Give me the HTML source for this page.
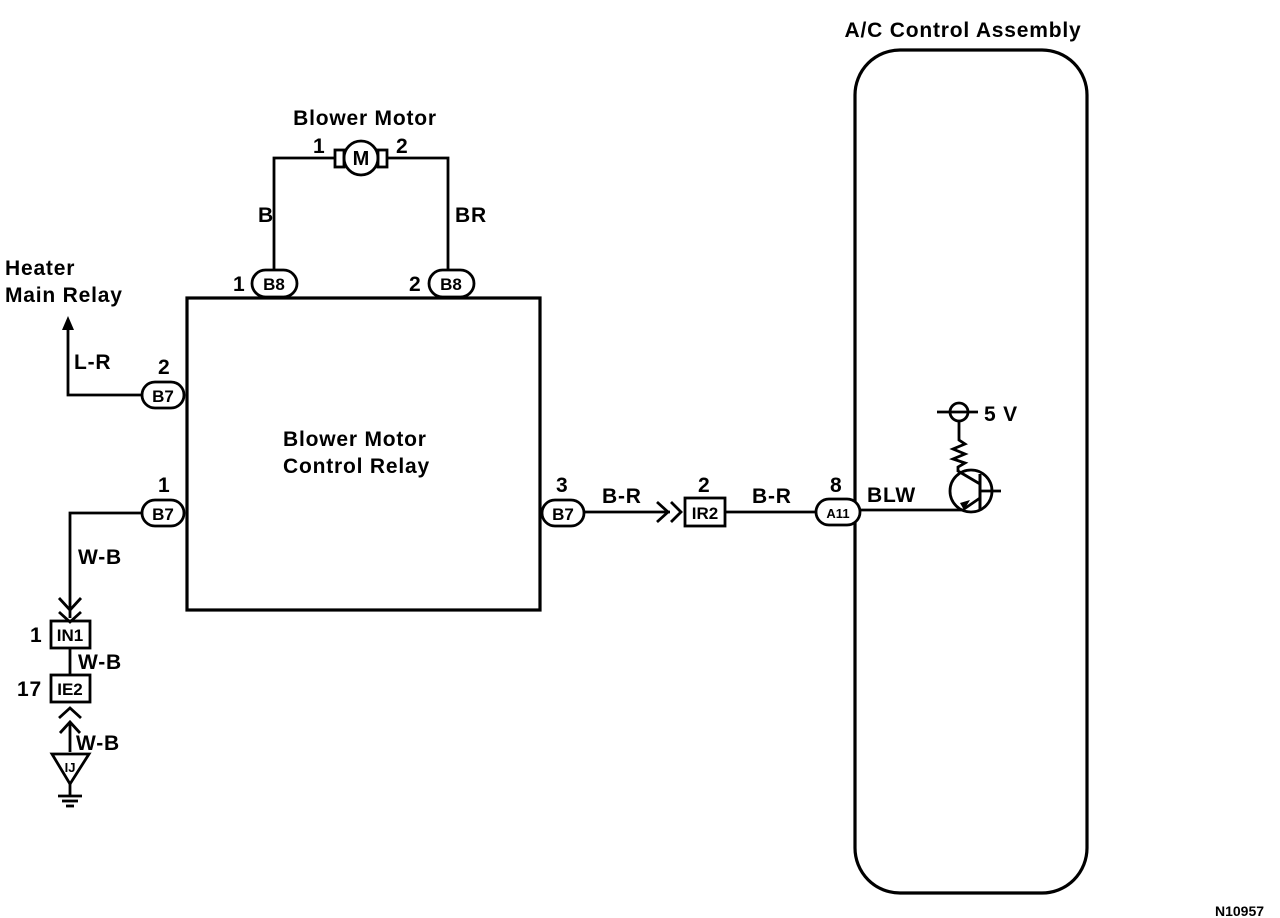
<!DOCTYPE html>
<html><head><meta charset="utf-8"><style>
body{margin:0;background:#fff;}
svg{display:block;}
text{font-family:"Liberation Sans",sans-serif;fill:#000;font-weight:bold;}
</style></head><body>
<svg width="1280" height="918" viewBox="0 0 1280 918" xmlns="http://www.w3.org/2000/svg">
<g fill="none" stroke="#000" stroke-width="2.8">
<rect x="187" y="298" width="353" height="312" stroke-width="3.2"/>
<rect x="855" y="50" width="232" height="843" rx="45" stroke-width="3.2"/>
<polyline points="274,270 274,158 336,158"/>
<polyline points="386,158 448,158 448,270"/>
<circle cx="361" cy="158" r="17"/>
<rect x="335" y="150" width="9" height="17"/>
<rect x="378" y="150" width="9" height="17"/>
<rect x="252" y="270" width="45" height="27" rx="13.5" fill="#fff"/>
<rect x="429" y="270" width="45" height="27" rx="13.5" fill="#fff"/>
<rect x="142" y="382" width="42" height="26" rx="13" fill="#fff"/>
<rect x="142" y="500" width="42" height="26" rx="13" fill="#fff"/>
<polyline points="142,395 68,395 68,328"/>
<polyline points="142,513 70,513 70,618"/>
<polyline points="59,598 70,610 81,598"/>
<polyline points="59,612 70,622 81,612"/>
<rect x="51" y="621" width="39" height="27"/>
<line x1="70" y1="648" x2="70" y2="675"/>
<rect x="51" y="675" width="39" height="27"/>
<polyline points="59,718 70,708 81,718"/>
<polyline points="70,752 70,722"/>
<polyline points="60,733 70,722 80,733"/>
<polygon points="52,754 89,754 70,784"/>
<line x1="70" y1="784" x2="70" y2="795"/>
<line x1="58" y1="796" x2="82" y2="796"/>
<line x1="62" y1="801" x2="78" y2="801"/>
<line x1="66" y1="806" x2="74" y2="806"/>
<rect x="542" y="500" width="42" height="26" rx="13" fill="#fff"/>
<line x1="584" y1="512" x2="670" y2="512"/>
<polyline points="657,502 668,512 657,522"/>
<polyline points="671,502 681,512 671,522"/>
<rect x="685" y="498" width="40" height="28"/>
<line x1="725" y1="512" x2="816" y2="512"/>
<rect x="816" y="499" width="44" height="26" rx="13" fill="#fff"/>
<line x1="860" y1="510" x2="965" y2="510"/>
<circle cx="971" cy="491" r="21"/>
<line x1="980" y1="474" x2="980" y2="510" stroke-width="3"/>
<line x1="980" y1="491" x2="1001" y2="491"/>
<line x1="958" y1="471" x2="980" y2="484"/>
<line x1="980" y1="498" x2="964" y2="509"/>
<circle cx="959" cy="412" r="9"/>
<line x1="937" y1="412" x2="978" y2="412"/>
<polyline points="959,421 959,440 965,444 953,449 965,454 953,459 965,463 958,467 958,472"/>
</g>
<polygon points="68,316 62,330 74,330" fill="#000"/>
<polygon points="964,510 960,503 970,500" fill="#000"/>
<g font-size="21" letter-spacing="0.8">
<text x="365" y="125" text-anchor="middle">Blower Motor</text>
<text x="963" y="37" text-anchor="middle">A/C Control Assembly</text>
<text x="283" y="446">Blower Motor</text>
<text x="283" y="473">Control Relay</text>
<text x="5" y="275">Heater</text>
<text x="5" y="302">Main Relay</text>
<text x="313" y="153">1</text>
<text x="396" y="153">2</text>
<text x="258" y="222">B</text>
<text x="455" y="222">BR</text>
<text x="233" y="291">1</text>
<text x="409" y="291">2</text>
<text x="158" y="374">2</text>
<text x="158" y="492">1</text>
<text x="74" y="369">L-R</text>
<text x="78" y="564">W-B</text>
<text x="78" y="669">W-B</text>
<text x="76" y="750">W-B</text>
<text x="30" y="642">1</text>
<text x="17" y="696">17</text>
<text x="556" y="492">3</text>
<text x="602" y="503">B-R</text>
<text x="698" y="492">2</text>
<text x="752" y="503">B-R</text>
<text x="830" y="492">8</text>
<text x="867" y="502">BLW</text>
<text x="984" y="421">5 V</text>
</g>
<g font-size="17" text-anchor="middle">
<text x="361" y="165" font-size="20">M</text>
<text x="274" y="290">B8</text>
<text x="451" y="290">B8</text>
<text x="163" y="402">B7</text>
<text x="163" y="520">B7</text>
<text x="563" y="520">B7</text>
<text x="705" y="519">IR2</text>
<text x="70" y="641">IN1</text>
<text x="70" y="695">IE2</text>
<text x="838" y="518" font-size="13">A11</text>
<text x="70" y="772" font-size="13">IJ</text>
</g>
<text x="1215" y="916" font-size="14">N10957</text>
</svg>
</body></html>
